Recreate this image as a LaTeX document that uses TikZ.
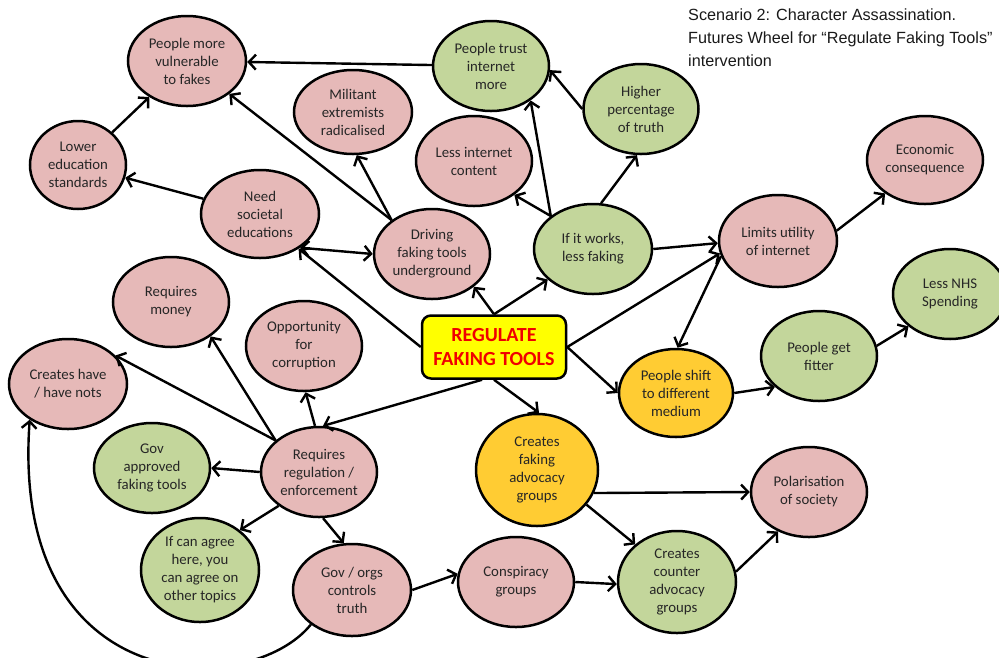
\documentclass[tikz,border=0pt]{standalone}
\usepackage{fontspec}
\setmainfont{Carlito}
\newfontfamily\titlefont{Liberation Sans}
\usetikzlibrary{shapes.geometric,arrows.meta}

\definecolor{pinkfill}{HTML}{E6B9B8}
\definecolor{greenfill}{HTML}{C3D69B}
\definecolor{orangefill}{HTML}{FFCC33}
\definecolor{boxfill}{HTML}{FFFF00}
\definecolor{boxtext}{HTML}{F00000}

\begin{document}
\begin{tikzpicture}[x=1pt,y=-1pt,
  bubble/.style={ellipse, draw=black, line width=2.5pt, inner sep=0pt,
    align=center, text=black!85, font=\fontsize{14.8}{18}\selectfont},
  pinkb/.style={bubble, fill=pinkfill},
  greenb/.style={bubble, fill=greenfill},
  orangeb/.style={bubble, fill=orangefill},
  sz/.style 2 args={minimum width=#1pt, minimum height=#2pt},
  link/.style={line width=2.4pt, -{Straight Barb[length=7pt,width=15pt]}},
  bothlink/.style={line width=2.4pt, {Straight Barb[length=7pt,width=15pt]}-{Straight Barb[length=7pt,width=15pt]}}
]
\useasboundingbox (0,0) rectangle (999,657);

% caption
\node[anchor=north west, align=left, inner sep=0pt, text=black!90,
  font=\titlefont\fontsize{16.2}{23}\selectfont] (title) at (688,9)
  {Scenario 2: Character Assassination.\\Futures Wheel for “Regulate Faking Tools”\\intervention};

% central intervention
\node[draw=black, fill=boxfill, rounded corners=9pt, line width=2.5pt,
  minimum width=144pt, minimum height=63pt, inner sep=0pt, align=center,
  text=boxtext, font=\bfseries\fontsize{20}{24}\selectfont] (reg) at (494,347)
  {REGULATE\\FAKING TOOLS};

% consequences
\node[pinkb, sz={118}{90}] (vuln) at (187,61) {People more\\vulnerable\\to fakes};
\node[pinkb, sz={96}{88}] (lower) at (78,165) {Lower\\education\\standards};
\node[pinkb, sz={118}{84}] (militant) at (353,112) {Militant\\extremists\\radicalised};
\node[greenb, sz={116}{90}] (trust) at (491,66) {People trust\\internet\\more};
\node[greenb, sz={115}{90}] (higher) at (641,109) {Higher\\percentage\\of truth};
\node[pinkb, sz={116}{90}] (lessint) at (474,161) {Less internet\\content};
\node[pinkb, sz={116}{88}] (econ) at (925,160) {Economic\\consequence};
\node[pinkb, sz={118}{88}] (need) at (260,214) {Need\\societal\\educations};
\node[pinkb, sz={116}{90}] (driving) at (432,254) {Driving\\faking tools\\underground};
\node[greenb, sz={118}{90}] (ifworks) at (593,249) {If it works,\\less faking};
\node[pinkb, sz={118}{92}] (limits) at (778,241) {Limits utility\\of internet};
\node[greenb, sz={114}{90}] (nhs) at (950,294) {Less NHS\\Spending};
\node[pinkb, sz={116}{90}] (money) at (171,302) {Requires\\money};
\node[pinkb, sz={116}{90}] (opp) at (304,346) {Opportunity\\for\\corruption};
\node[pinkb, sz={118}{90}] (have) at (68,384) {Creates have\\/ have nots};
\node[orangeb, sz={114}{88}] (shift) at (676,393) {People shift\\to different\\medium};
\node[greenb, sz={116}{90}] (fitter) at (819,356) {People get\\fitter};
\node[greenb, sz={116}{90}] (govappr) at (152,468) {Gov\\approved\\faking tools};
\node[pinkb, sz={116}{90}] (reqreg) at (319,472) {Requires\\regulation /\\enforcement};
\node[orangeb, sz={122}{112}] (cfa) at (537,470) {Creates\\faking\\advocacy\\groups};
\node[pinkb, sz={116}{90}] (polar) at (809,492) {Polarisation\\of society};
\node[greenb, sz={118}{104}] (ifagree) at (200,570) {If can agree\\here, you\\can agree on\\other topics};
\node[pinkb, sz={118}{92}] (gov) at (352,590) {Gov / orgs\\controls\\truth};
\node[pinkb, sz={116}{90}] (consp) at (516,582) {Conspiracy\\groups};
\node[greenb, sz={118}{102}] (counter) at (677,582) {Creates\\counter\\advocacy\\groups};

% upper left cluster
\draw[link] (trust) -- (vuln);
\draw[link] (lower) -- (vuln);
\draw[link] (driving.140) -- (vuln);
\draw[link] (need) -- (lower);
\draw[link] (driving.140) -- (militant.275);
\draw[bothlink] (need.-40) -- (driving.180);
\draw[link] (reg.west) -- (need.-42);
\draw[link] (reg.north) -- (driving.-38);

% upper right cluster
\draw[link] (reg.north) -- (ifworks.214);
\draw[link] (ifworks.142) -- (lessint.-40);
\draw[link] (ifworks.142) -- (trust.-41);
\draw[link] (ifworks.80) -- (higher.265);
\draw[link] (higher.west) -- (trust.-4);
\draw[link] (ifworks.east) -- (limits.182);
\draw[link] (reg.east) -- (limits.192);
\draw[link] (limits.195) -- (shift.88);
\draw[link] (limits.10) -- (econ.220);
\draw[link] (reg.east) -- (shift.180);
\draw[link] (shift.east) -- (fitter.215);
\draw[link] (fitter.10) -- (nhs.218);

% lower right cluster
\draw[link] (reg.south) -- (cfa.88);
\draw[link] (cfa.-22) -- (polar.west);
\draw[link] (cfa.-35) -- (counter.138);
\draw[link] (consp.east) -- (counter.182);
\draw[link] (gov.east) -- (consp.172);
\draw[link] (counter.10) -- (polar.232);

% regulation branch
\draw[link] (reg.250) -- (reqreg.85);
\draw[link] (reqreg.144) -- (have.31);
\draw[link] (reqreg.144) -- (money.-41);
\draw[link] (reqreg.95) -- (opp.272);
\draw[link] (reqreg.west) -- (govappr.east);
\draw[link] (reqreg.220) -- (ifagree.45);
\draw[link] (reqreg.275) -- (gov.100);
\draw[link] (gov.220) .. controls (250,700) and (10,700) .. (have.223);
\end{tikzpicture}
\end{document}
